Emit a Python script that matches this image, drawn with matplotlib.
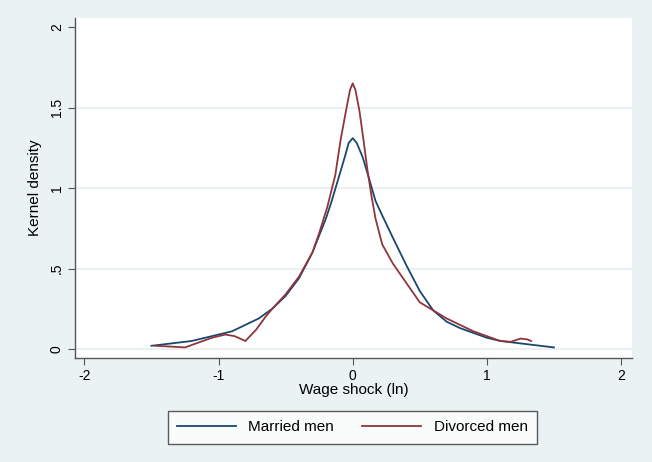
import matplotlib
matplotlib.use("Agg")
import matplotlib.pyplot as plt

plt.rcParams['font.family'] = ['Liberation Sans', 'DejaVu Sans']

# kernel density estimates read per group
married_x = [-1.5, -1.4, -1.3, -1.2, -1.1, -1.0, -0.9, -0.8, -0.7, -0.6, -0.5, -0.4,
             -0.3, -0.2, -0.16, -0.11, -0.06, -0.03, 0.0, 0.03, 0.075, 0.125, 0.17,
             0.22, 0.3, 0.4, 0.5, 0.6, 0.7, 0.8, 0.9, 1.0, 1.1, 1.2, 1.3, 1.4, 1.5]
married_y = [0.02, 0.03, 0.04, 0.05, 0.07, 0.09, 0.11, 0.15, 0.19, 0.25, 0.33, 0.44,
             0.60, 0.81, 0.91, 1.05, 1.19, 1.28, 1.31, 1.28, 1.19, 1.05, 0.92,
             0.83, 0.69, 0.52, 0.36, 0.24, 0.17, 0.13, 0.10, 0.07, 0.05, 0.04, 0.03, 0.02, 0.01]

divorced_x = [-1.47, -1.35, -1.25, -1.15, -1.05, -0.95, -0.88, -0.8, -0.72, -0.65,
              -0.6, -0.5, -0.4, -0.3, -0.25, -0.19, -0.13, -0.09, -0.05, -0.02, 0.0,
              0.02, 0.05, 0.08, 0.11, 0.14, 0.17, 0.22, 0.3, 0.4, 0.5, 0.6, 0.7, 0.8,
              0.9, 1.0, 1.1, 1.18, 1.25, 1.3, 1.33]
divorced_y = [0.02, 0.015, 0.01, 0.04, 0.07, 0.09, 0.08, 0.05, 0.12, 0.20,
              0.25, 0.34, 0.45, 0.60, 0.72, 0.88, 1.08, 1.30, 1.48, 1.61, 1.65,
              1.61, 1.48, 1.30, 1.11, 0.95, 0.81, 0.65, 0.53, 0.41, 0.29, 0.24, 0.19, 0.15,
              0.11, 0.08, 0.05, 0.045, 0.065, 0.06, 0.05]

x_ticks = [-2, -1, 0, 1, 2]
y_ticks = [0, 0.5, 1, 1.5, 2]
y_labels = ['0', '.5', '1', '1.5', '2']

bg = '#EAF2F3'
fig = plt.figure(figsize=(6.52, 4.62), dpi=100, facecolor=bg)
ax = fig.add_axes([0.115, 0.225, 0.854, 0.736])
ax.set_facecolor('white')

for yv in y_ticks[:-1]:
    ax.axhline(yv, color='#E6EEF0', lw=1.2, zorder=0)

ax.plot(married_x, married_y, color='#1A476F', lw=1.3, label='Married men')
ax.plot(divorced_x, divorced_y, color='#90353B', lw=1.3, label='Divorced men')

ax.set_xlim(-2.07, 2.08)
ax.set_ylim(-0.056, 2.056)
ax.set_xticks(x_ticks)
ax.set_xticklabels(['-2', '-1', '0', '1', '2'])
ax.set_yticks(y_ticks)
ax.set_yticklabels(y_labels, rotation=90, va='center')

for s in ['top', 'right']:
    ax.spines[s].set_visible(False)
for s in ['left', 'bottom']:
    ax.spines[s].set_color('#555555')
    ax.spines[s].set_linewidth(1.0)

ax.tick_params(length=5, width=0.8, color='#555555', labelsize=10, pad=3)
ax.set_xlabel('Wage shock (ln)', fontsize=11, labelpad=0)
ax.set_ylabel('Kernel density', fontsize=11, labelpad=6)

fig.legend(loc='center', bbox_to_anchor=(0.5406, 0.0747), ncol=2, fontsize=11,
           frameon=True, fancybox=False, edgecolor='#333333', facecolor='white',
           handlelength=3.86, handletextpad=0.8, columnspacing=1.85, borderpad=0.6)

fig.savefig('out.png', dpi=100, facecolor=bg)
